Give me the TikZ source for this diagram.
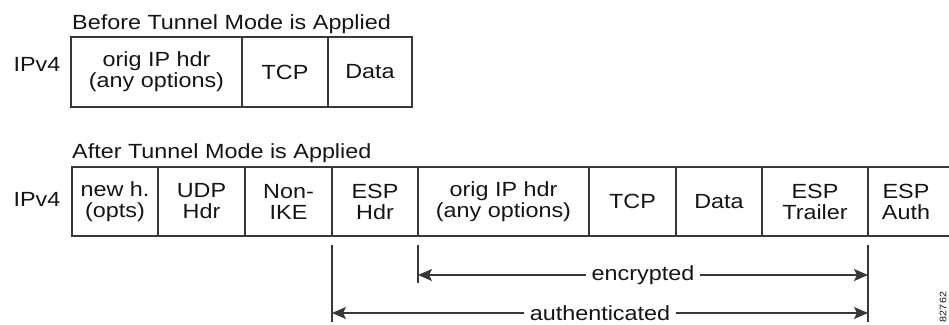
\documentclass[tikz,border=0pt]{standalone}
\usepackage{fontspec}
\setmainfont{Liberation Sans}[FakeStretch=1.14]
\usetikzlibrary{arrows.meta}
\definecolor{linec}{HTML}{383838}
\definecolor{txtc}{HTML}{151515}
\begin{document}
\begin{tikzpicture}[x=1pt,y=-1pt,
  every node/.style={text=txtc, font=\fontsize{20.5}{21}\selectfont},
  title/.style={anchor=base west, inner sep=0pt},
  cell/.style={draw=linec, line width=1.7pt, outer sep=0pt, anchor=north west, inner sep=0pt, align=center},
  topcell/.style={cell, minimum height=70pt},
  botcell/.style={cell, minimum height=69pt},
  guide/.style={draw=linec, line width=1.7pt},
  span/.style={draw=linec, line width=1.7pt, {Stealth[length=14pt,width=12pt,inset=3pt]}-{Stealth[length=14pt,width=12pt,inset=3pt]}},
  spanlbl/.style={fill=white, inner xsep=6pt, inner ysep=1pt}
]
\useasboundingbox (0,0) rectangle (949,324);

% ---- Before ----
\node[title] (t1) at (72,29) {Before Tunnel Mode is Applied};
\node (ip1) at (37,64) {IPv4};
\node[topcell, minimum width=171pt] (o1) at (71,37) {orig IP hdr\\(any options)};
\node[topcell, minimum width=86pt] (tcp1) at (242,37) {TCP};
\node[topcell, minimum width=84pt] (d1) at (328,37) {Data};

% ---- After ----
\node[title] (t2) at (72,158) {After Tunnel Mode is Applied};
\node (ip2) at (37,199) {IPv4};
\node[botcell, minimum width=86pt] (nh) at (72,167) {new h.\\(opts)};
\node[botcell, minimum width=87pt] (udp) at (158,167) {UDP\\Hdr};
\node[botcell, minimum width=87pt] (nike) at (245,167) {Non-\\IKE};
\node[botcell, minimum width=86pt] (esph) at (332,167) {ESP\\Hdr};
\node[botcell, minimum width=171pt] (o2) at (418,167) {orig IP hdr\\(any options)};
\node[botcell, minimum width=87pt] (tcp2) at (589,167) {TCP};
\node[botcell, minimum width=86pt] (d2) at (676,167) {Data};
\node[botcell, minimum width=106pt] (espt) at (762,167) {ESP\\Trailer};
\node[botcell, draw=none, minimum width=76pt] (espa) at (868,167) {ESP\\Auth};
\coordinate (rt) at (951,167);
\coordinate (rb) at (951,236);
\draw[guide] (espa.north west) -- (rt);
\draw[guide] (espa.south west) -- (rb);

% ---- guide lines ----
\coordinate (g1t) at (332,245);
\coordinate (g1b) at (332,322);
\coordinate (g2t) at (418,245);
\coordinate (g2b) at (418,283);
\coordinate (g3t) at (868,245);
\coordinate (g3b) at (868,322);
\draw[guide] (g1t) -- (g1b);
\draw[guide] (g2t) -- (g2b);
\draw[guide] (g3t) -- (g3b);

\coordinate (e1) at (418,275);
\coordinate (e2) at (868,275);
\coordinate (a1) at (332,313);
\coordinate (a2) at (868,313);
\draw[span] (e1) -- node[spanlbl] (enc) {encrypted} (e2);
\draw[span] (a1) -- node[spanlbl] (auth) {authenticated} (a2);

\node[rotate=90, font=\fontsize{9.5}{10}\selectfont, text=txtc] (fig) at (943,307) {82762};
\end{tikzpicture}
\end{document}
